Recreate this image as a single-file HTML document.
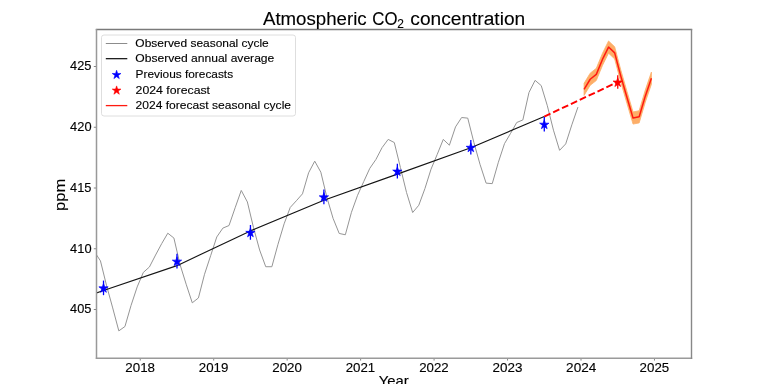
<!DOCTYPE html>
<html><head><meta charset="utf-8"><style>html,body{margin:0;padding:0;background:#fff;overflow:hidden}svg{display:block;will-change:transform}</style></head>
<body><svg width="768" height="384" viewBox="0 0 768 384" font-family="Liberation Sans, sans-serif" fill="#000"><rect width="768" height="384" fill="#fff"/><defs><clipPath id="ax"><rect x="96" y="29.5" width="595.5" height="328.4"/></clipPath></defs><g clip-path="url(#ax)"><polyline points="-3.61,339.15 2.51,320.19 8.63,311.08 14.76,279.73 20.88,251.54 27.00,260.90 33.12,316.67 39.24,342.67 45.36,357.49 51.49,350.93 57.61,327.12 63.73,316.18 69.85,295.28 75.97,291.76 82.09,282.53 88.22,260.41 94.34,251.54 100.46,260.90 106.58,285.69 112.70,307.92 118.82,330.88 124.95,326.51 131.07,305.37 137.19,286.90 143.31,272.44 149.43,266.98 155.55,255.07 161.68,243.65 167.80,233.20 173.92,238.06 180.04,264.55 186.16,284.23 192.28,302.82 198.41,297.96 204.53,274.27 210.65,255.68 216.77,236.96 222.89,228.10 229.01,225.54 235.14,207.80 241.26,190.43 247.38,201.97 253.50,227.61 259.62,249.97 265.74,266.73 271.87,266.73 277.99,244.25 284.11,223.84 290.23,207.44 296.35,200.76 302.47,193.83 308.60,172.81 314.72,161.15 320.84,172.20 326.96,197.60 333.08,218.38 339.20,233.44 345.33,234.78 351.45,212.30 357.57,195.29 363.69,181.68 369.81,168.32 375.93,159.45 382.06,147.66 388.18,139.40 394.30,142.56 400.42,167.47 406.54,192.50 412.66,212.54 418.79,205.25 424.91,188.61 431.03,169.17 437.15,154.59 443.27,139.40 449.39,145.23 455.52,126.89 461.64,117.53 467.76,118.14 473.88,142.44 480.00,164.31 486.12,183.14 492.25,183.63 498.37,162.24 504.49,143.65 510.61,133.32 516.73,122.51 522.85,119.96 528.98,92.50 535.10,80.35 541.22,85.58 547.34,105.74 553.46,130.17 559.58,150.33 565.71,143.90 571.83,124.82 577.95,107.08" fill="none" stroke="#959595" stroke-width="1.0" stroke-linejoin="round"/><polyline points="30.06,315.57 103.52,290.55 176.98,265.64 250.44,230.89 323.90,200.27 397.36,174.15 470.82,147.78 544.28,116.56" fill="none" stroke="#141414" stroke-width="1.12" stroke-linejoin="round"/><line x1="544.28" y1="116.56" x2="617.74" y2="82.05" stroke="#ff0000" stroke-width="1.95" stroke-dasharray="6.85,2.95"/><polygon points="584.07,83.27 590.19,73.18 596.31,68.32 602.44,53.38 608.56,40.98 614.68,46.82 620.80,70.02 626.92,91.16 633.04,111.94 639.17,110.73 645.29,90.07 651.41,72.09 651.41,84.24 645.29,102.22 639.17,122.88 633.04,124.09 626.92,103.31 620.80,82.17 614.68,58.97 608.56,53.13 602.44,65.53 596.31,80.47 590.19,85.33 584.07,95.42" fill="#fdae68" stroke="#fdae68" stroke-width="0.8"/><polyline points="584.07,89.34 590.19,79.26 596.31,74.40 602.44,59.45 608.56,47.06 614.68,52.89 620.80,76.10 626.92,97.24 633.04,118.02 639.17,116.80 645.29,96.15 651.41,78.16" fill="none" stroke="#ff1a10" stroke-width="1.5" stroke-linejoin="round"/><line x1="103.52" y1="280.57" x2="103.52" y2="295.17" stroke="#0000ff" stroke-width="1.3"/><polygon points="103.52,283.47 102.42,286.86 98.86,286.86 101.74,288.95 100.64,292.34 103.52,290.24 106.40,292.34 105.30,288.95 108.18,286.86 104.62,286.86" fill="#0000ff" stroke="#0000ff" stroke-width="0.7"/><line x1="176.98" y1="253.84" x2="176.98" y2="268.44" stroke="#0000ff" stroke-width="1.3"/><polygon points="176.98,256.74 175.88,260.13 172.32,260.13 175.20,262.22 174.10,265.61 176.98,263.51 179.86,265.61 178.76,262.22 181.64,260.13 178.08,260.13" fill="#0000ff" stroke="#0000ff" stroke-width="0.7"/><line x1="250.44" y1="225.05" x2="250.44" y2="239.65" stroke="#0000ff" stroke-width="1.3"/><polygon points="250.44,227.95 249.34,231.33 245.78,231.33 248.66,233.43 247.56,236.81 250.44,234.72 253.32,236.81 252.22,233.43 255.10,231.33 251.54,231.33" fill="#0000ff" stroke="#0000ff" stroke-width="0.7"/><line x1="323.90" y1="189.57" x2="323.90" y2="204.17" stroke="#0000ff" stroke-width="1.3"/><polygon points="323.90,192.47 322.80,195.86 319.24,195.86 322.12,197.95 321.02,201.33 323.90,199.24 326.78,201.33 325.68,197.95 328.56,195.86 325.00,195.86" fill="#0000ff" stroke="#0000ff" stroke-width="0.7"/><line x1="397.36" y1="163.81" x2="397.36" y2="178.41" stroke="#0000ff" stroke-width="1.3"/><polygon points="397.36,166.71 396.26,170.10 392.70,170.10 395.58,172.19 394.48,175.58 397.36,173.48 400.24,175.58 399.14,172.19 402.02,170.10 398.46,170.10" fill="#0000ff" stroke="#0000ff" stroke-width="0.7"/><line x1="470.82" y1="140.00" x2="470.82" y2="154.60" stroke="#0000ff" stroke-width="1.3"/><polygon points="470.82,142.90 469.72,146.28 466.16,146.28 469.04,148.38 467.94,151.76 470.82,149.67 473.70,151.76 472.60,148.38 475.48,146.28 471.92,146.28" fill="#0000ff" stroke="#0000ff" stroke-width="0.7"/><line x1="544.28" y1="116.91" x2="544.28" y2="131.51" stroke="#0000ff" stroke-width="1.3"/><polygon points="544.28,119.81 543.18,123.20 539.62,123.20 542.50,125.29 541.40,128.68 544.28,126.58 547.16,128.68 546.06,125.29 548.94,123.20 545.38,123.20" fill="#0000ff" stroke="#0000ff" stroke-width="0.7"/><line x1="617.74" y1="75.25" x2="617.74" y2="88.85" stroke="#ff0000" stroke-width="1.3"/><polygon points="617.74,77.65 616.64,81.04 613.08,81.04 615.96,83.13 614.86,86.52 617.74,84.42 620.62,86.52 619.52,83.13 622.40,81.04 618.84,81.04" fill="#ff0000" stroke="#ff0000" stroke-width="0.7"/></g><line x1="95.8" y1="29.5" x2="692.2" y2="29.5" stroke="#7a7a7a" stroke-width="1.3"/><line x1="95.8" y1="358.3" x2="692.2" y2="358.3" stroke="#9a9a9a" stroke-width="1.6"/><line x1="96.5" y1="29" x2="96.5" y2="359" stroke="#999" stroke-width="1.5"/><line x1="691.5" y1="29" x2="691.5" y2="359" stroke="#888" stroke-width="1.4"/><line x1="93.8" y1="309.50" x2="96" y2="309.50" stroke="#888" stroke-width="1"/><line x1="93.8" y1="248.75" x2="96" y2="248.75" stroke="#888" stroke-width="1"/><line x1="93.8" y1="188.00" x2="96" y2="188.00" stroke="#888" stroke-width="1"/><line x1="93.8" y1="127.25" x2="96" y2="127.25" stroke="#888" stroke-width="1"/><line x1="93.8" y1="66.50" x2="96" y2="66.50" stroke="#888" stroke-width="1"/><line x1="140.25" y1="359" x2="140.25" y2="360.6" stroke="#888" stroke-width="1"/><line x1="213.71" y1="359" x2="213.71" y2="360.6" stroke="#888" stroke-width="1"/><line x1="287.17" y1="359" x2="287.17" y2="360.6" stroke="#888" stroke-width="1"/><line x1="360.63" y1="359" x2="360.63" y2="360.6" stroke="#888" stroke-width="1"/><line x1="434.09" y1="359" x2="434.09" y2="360.6" stroke="#888" stroke-width="1"/><line x1="507.55" y1="359" x2="507.55" y2="360.6" stroke="#888" stroke-width="1"/><line x1="581.01" y1="359" x2="581.01" y2="360.6" stroke="#888" stroke-width="1"/><line x1="654.47" y1="359" x2="654.47" y2="360.6" stroke="#888" stroke-width="1"/><rect x="101.5" y="35" width="194" height="81" rx="2.5" fill="#fff" fill-opacity="0.8" stroke="#d6d6d6" stroke-width="0.8"/><line x1="105.8" y1="43.5" x2="127.3" y2="43.5" stroke="#8c8c8c" stroke-width="1"/><line x1="105.8" y1="58.7" x2="127.3" y2="58.7" stroke="#000" stroke-width="1.15"/><polygon points="116.60,70.30 115.57,73.48 112.23,73.48 114.93,75.44 113.90,78.62 116.60,76.66 119.30,78.62 118.27,75.44 120.97,73.48 117.63,73.48" fill="#0000ff" stroke="#0000ff" stroke-width="0.6"/><polygon points="116.60,85.90 115.57,89.08 112.23,89.08 114.93,91.04 113.90,94.22 116.60,92.26 119.30,94.22 118.27,91.04 120.97,89.08 117.63,89.08" fill="#ff0000" stroke="#ff0000" stroke-width="0.6"/><line x1="105.8" y1="105.6" x2="127.3" y2="105.6" stroke="#ff1a10" stroke-width="1.3"/><g stroke="#000" stroke-width="0.12"><text x="262.94" y="25.4" font-size="17.6" textLength="103.72" lengthAdjust="spacingAndGlyphs">Atmospheric</text><text x="372.35" y="25.4" font-size="17.6" textLength="25.14" lengthAdjust="spacingAndGlyphs">CO</text><text x="397.29" y="27.9" font-size="12.6" textLength="6.65" lengthAdjust="spacingAndGlyphs">2</text><text x="410.34" y="25.4" font-size="17.6" textLength="114.91" lengthAdjust="spacingAndGlyphs">concentration</text><text x="135.39" y="47.0" font-size="11.0" textLength="133.37" lengthAdjust="spacingAndGlyphs">Observed seasonal cycle</text><text x="135.28" y="62.4" font-size="11.0" textLength="139.05" lengthAdjust="spacingAndGlyphs">Observed annual average</text><text x="135.56" y="78.0" font-size="11.0" textLength="97.55" lengthAdjust="spacingAndGlyphs">Previous forecasts</text><text x="135.62" y="93.9" font-size="11.0" textLength="74.4" lengthAdjust="spacingAndGlyphs">2024 forecast</text><text x="135.64" y="109.1" font-size="11.0" textLength="155.41" lengthAdjust="spacingAndGlyphs">2024 forecast seasonal cycle</text><text x="378.76" y="386.0" font-size="14.3" textLength="30.04" lengthAdjust="spacingAndGlyphs">Year</text><text x="125.31" y="371.8" font-size="12.8" textLength="29.7" lengthAdjust="spacingAndGlyphs">2018</text><text x="198.84" y="371.8" font-size="12.8" textLength="29.56" lengthAdjust="spacingAndGlyphs">2019</text><text x="272.22" y="371.8" font-size="12.8" textLength="29.74" lengthAdjust="spacingAndGlyphs">2020</text><text x="345.67" y="371.8" font-size="12.8" textLength="29.59" lengthAdjust="spacingAndGlyphs">2021</text><text x="419.15" y="371.8" font-size="12.8" textLength="29.49" lengthAdjust="spacingAndGlyphs">2022</text><text x="492.54" y="371.8" font-size="12.8" textLength="29.87" lengthAdjust="spacingAndGlyphs">2023</text><text x="566.1" y="371.8" font-size="12.8" textLength="30.17" lengthAdjust="spacingAndGlyphs">2024</text><text x="639.6" y="371.8" font-size="12.8" textLength="29.57" lengthAdjust="spacingAndGlyphs">2025</text><text x="70.12" y="313.35" font-size="12.8" textLength="21.34" lengthAdjust="spacingAndGlyphs">405</text><text x="70.09" y="252.6" font-size="12.8" textLength="21.49" lengthAdjust="spacingAndGlyphs">410</text><text x="70.12" y="191.85" font-size="12.8" textLength="21.34" lengthAdjust="spacingAndGlyphs">415</text><text x="70.09" y="131.1" font-size="12.8" textLength="21.49" lengthAdjust="spacingAndGlyphs">420</text><text x="70.12" y="70.35" font-size="12.8" textLength="21.34" lengthAdjust="spacingAndGlyphs">425</text><text transform="translate(64.6,194.8) rotate(-90)" font-size="14.5" text-anchor="middle" textLength="32.3" lengthAdjust="spacingAndGlyphs">ppm</text></g></svg></body></html>
